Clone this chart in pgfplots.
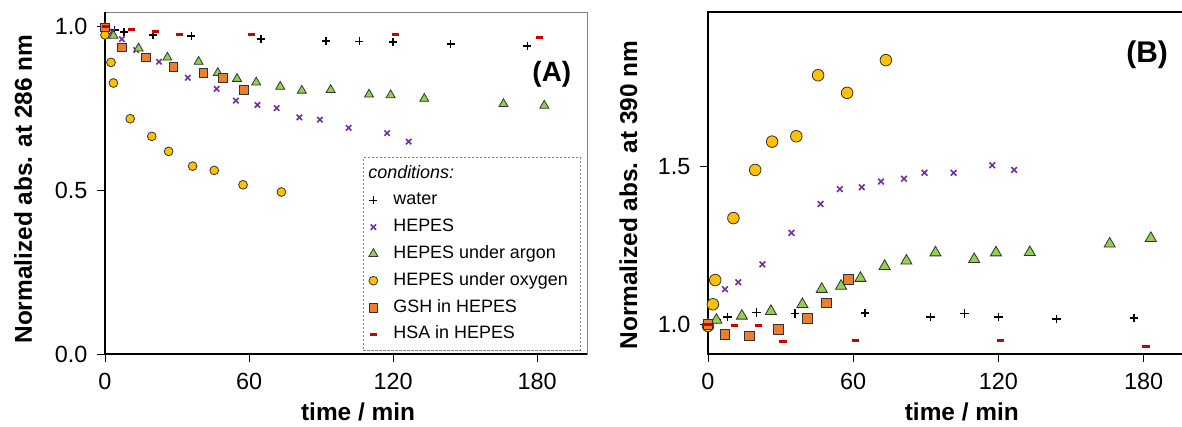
\documentclass[border=0pt]{standalone}
\usepackage{fontspec}
\setmainfont{Liberation Sans}
\usepackage{pgfplots}
\pgfplotsset{compat=1.18}

\definecolor{hepes}{RGB}{112,48,160}
\definecolor{argon}{RGB}{146,208,80}
\definecolor{oxygen}{RGB}{255,192,0}
\definecolor{gsh}{RGB}{237,125,49}
\definecolor{hsa}{RGB}{204,0,0}
\definecolor{edge}{RGB}{50,50,50}

\pgfplotsset{
  kin/.style={
    scale only axis, height=342bp,
    clip=false,
    tick align=outside, major tick length=8bp,
    xtick pos=bottom, ytick pos=left,
    tick style={black, line width=1bp},
    xtick={0,60,120,180},
    /pgf/number format/assume math mode=true,
    ticklabel style={font=\fontsize{23.5}{28}\selectfont},
    xticklabel shift=8bp,
    yticklabel shift=6bp,
    yticklabel style={/pgf/number format/.cd, fixed, fixed zerofill, precision=1},
    label style={font=\bfseries\fontsize{24.5}{29}\selectfont},
  },
  water/.style={only marks, black, mark=+, mark size=#1, mark options={solid, line width=1.6bp}},
  hep/.style={only marks, hepes, mark=x, mark size=#1, mark options={solid, line width=1.6bp}},
  arg/.style={only marks, mark=triangle*, mark size=#1, mark options={solid, fill=argon, draw=edge, line width=0.8bp}},
  oxy/.style={only marks, mark=*, mark size=#1, mark options={solid, fill=oxygen, draw=edge, line width=0.8bp}},
  gshm/.style={only marks, mark=square*, mark size=#1, mark options={solid, fill=gsh, draw=edge, line width=0.8bp}},
  hsam/.style={only marks, hsa, mark=-, mark size=#1, mark options={solid, line width=3bp}},
}

\begin{document}
\begin{tikzpicture}
\useasboundingbox (0bp,0bp) rectangle (1182bp,-427bp);

% ---------- (A) absorbance at 286 nm ----------
\begin{axis}[kin,
  at={(105bp,-354bp)}, anchor=south west, width=482bp,
  xmin=0, xmax=200.8, ymin=0, ymax=1.045,
  ytick={0,0.5,1},
  axis line style={draw=black!50, line width=0.8bp},
  xlabel={time / min},
  ylabel={Normalized abs. at 286 nm},
  xlabel style={at={(rel axis cs:0.525,-0.193)}, anchor=base},
  ylabel style={at={(rel axis cs:-0.1515,0.482)}, anchor=base},
  legend cell align=left,
  legend image code/.code={%
    \draw[#1] plot coordinates {(0bp,0bp)};
    \path[draw=none, fill=none] (-5.5bp,-4bp) rectangle (5.5bp,4bp);},
  legend style={at={(rel axis cs:0.535,0.576)}, anchor=north west,
    draw=black!50, dash pattern=on 2.5bp off 1.5bp, line width=1bp,
    fill=white, inner xsep=4.5bp, inner ysep=7.5bp,
    row sep=9.8bp, column sep=14.5bp,
    font=\fontsize{18}{21}\selectfont,
    nodes={inner sep=0pt, text height=13bp, text depth=4bp}},
]
\draw[black, line width=1.3bp] (rel axis cs:0,1) -- (rel axis cs:0,0) -- (rel axis cs:1,0);

\addlegendimage{empty legend}
\addlegendentry{\hspace*{-25bp}\textit{conditions:}}

\addplot[water=4bp] coordinates {
 (0,1.000) (4,0.990) (8,0.983) (20,0.975) (36,0.972) (65,0.962)
 (92,0.957) (106,0.955) (120,0.954) (144,0.947) (176,0.942)};
\addlegendentry{water}

\addplot[hep=3.8bp] coordinates {
 (0,1.000) (3,0.985) (7,0.962) (13,0.929) (22.5,0.893) (34.5,0.844)
 (46.5,0.810) (54.5,0.774) (63.5,0.761) (71.5,0.751) (81,0.723)
 (89.5,0.716) (101.5,0.691) (117.5,0.675) (126.5,0.649)};
\addlegendentry{HEPES}

\addplot[arg=5.2bp] coordinates {
 (0,1.000) (3.5,0.973) (14,0.934) (26,0.906) (39,0.893) (47,0.859)
 (55,0.841) (63,0.830) (73,0.817) (82,0.805) (94,0.807) (110,0.793)
 (119,0.791) (133,0.780) (166,0.764) (183,0.759)};
\addlegendentry{HEPES under argon}

\addplot[oxy=4.4bp] coordinates {
 (0,0.975) (2.5,0.891) (3.5,0.828) (10.5,0.719) (19.5,0.665)
 (26.5,0.619) (36.5,0.574) (45.5,0.561) (57.5,0.517) (73.5,0.495)};
\addlegendentry{HEPES under oxygen\hspace*{8bp}}

\addplot[gshm=4.4bp] coordinates {
 (0,0.998) (7,0.937) (17,0.906) (28.5,0.878) (41,0.859) (49,0.844) (58,0.807)};
\addlegendentry{GSH in HEPES}

\addplot[hsam=3.5bp] coordinates {
 (0,1.000) (11,0.991) (21,0.986) (31,0.975) (61,0.976) (121,0.976) (181,0.966)};
\addlegendentry{HSA in HEPES}

\node[font=\bfseries\fontsize{28}{32}\selectfont] at (rel axis cs:0.927,0.819) {(A)};
\end{axis}

% ---------- (B) absorbance at 390 nm ----------
\begin{axis}[kin,
  at={(708bp,-354bp)}, anchor=south west, width=490bp,
  xmin=0, xmax=202.5, ymin=0.905, ymax=1.992,
  ytick={1,1.5},
  axis line style={draw=black, line width=1.3bp},
  xlabel={time / min},
  ylabel={Normalized abs. at 390 nm},
  xlabel style={at={(rel axis cs:0.518,-0.193)}, anchor=base},
  ylabel style={at={(rel axis cs:-0.1449,0.465)}, anchor=base},
]
\addplot[water=4.2bp] coordinates {
 (0,1.000) (3.5,1.013) (8,1.023) (20,1.037) (36,1.034) (65,1.036)
 (92,1.023) (106,1.034) (120,1.023) (144,1.016) (176,1.020)};

\addplot[hep=4bp] coordinates {
 (0,1.000) (3,1.064) (7,1.111) (12.5,1.133) (22.5,1.190) (34.5,1.290)
 (46.5,1.382) (54.5,1.429) (63.5,1.435) (71.5,1.453) (81,1.462)
 (89.5,1.481) (101.5,1.481) (117.5,1.505) (126.5,1.490)};

\addplot[arg=6.4bp] coordinates {
 (0,1.000) (3.5,1.013) (14,1.026) (26,1.041) (39,1.063) (47,1.111)
 (55,1.121) (63,1.146) (73,1.184) (82,1.201) (94,1.227) (110,1.206)
 (119,1.227) (133,1.228) (166,1.255) (183,1.273)};

\addplot[oxy=5.8bp] coordinates {
 (0,0.994) (2,1.063) (3,1.140) (10.5,1.337) (19.5,1.490)
 (26.5,1.580) (36.5,1.597) (45.5,1.791) (57.5,1.735) (73.5,1.839)};

\addplot[gshm=4.8bp] coordinates {
 (0,1.000) (7,0.967) (17,0.963) (29,0.984) (41,1.019) (49,1.068) (58,1.142)};

\addplot[hsam=3.6bp] coordinates {
 (0,1.000) (11,0.995) (21,0.995) (31,0.944) (61,0.947) (121,0.949) (181,0.930)};

\node[font=\bfseries\fontsize{30}{34}\selectfont] at (rel axis cs:0.896,0.874) {(B)};
\end{axis}
\end{tikzpicture}
\end{document}
